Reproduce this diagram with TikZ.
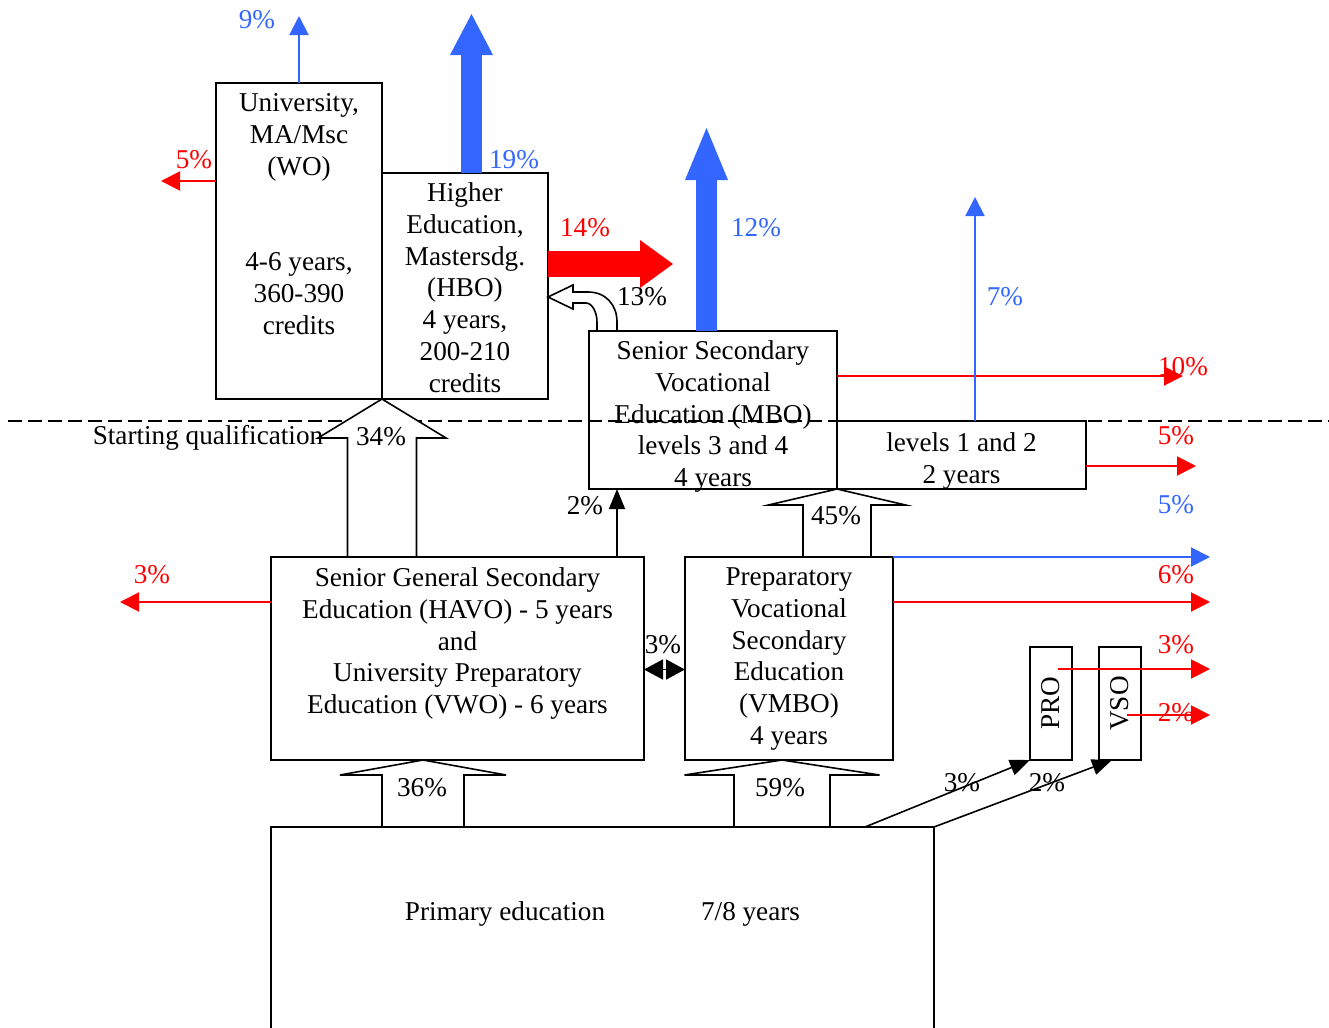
\documentclass[tikz,border=0pt]{standalone}
\usepackage{fontspec}
\setmainfont{Liberation Serif}
\usepackage{graphicx}
\usetikzlibrary{calc}
\usetikzlibrary{arrows.meta}
\usetikzlibrary{positioning}

\definecolor{lossred}{RGB}{255,0,0}
\definecolor{upblue}{RGB}{51,102,255}
\newcommand{\fs}{\fontsize{13.6}{15.9}\selectfont}
% hollow block arrow: tip, node it starts at, half shaft, half head, head length
\newcommand{\blockup}[5]{%
 \path (#1) ++(#3,#5) coordinate (hr) ++({-2*#3},0) coordinate (hl);
 \draw[hollow] (#1) -- ++(#4,#5) -- (hr) -- (hr |- #2) -- (hl |- #2) -- (hl) -- ++({#3-#4},0) -- cycle;
}

\begin{document}
\begin{tikzpicture}[x=0.5pt,y=-0.5pt,
 box/.style={draw, line width=1pt, align=center, inner sep=0pt, outer sep=0pt, font=\fs, anchor=north west},
 boxtext/.style={below=#1, align=center, font=\fs, inner sep=0pt},
 pct/.style={font=\fs, inner sep=0pt, anchor=base},
 hollow/.style={draw, fill=white, line width=0.8pt},
 outred/.style={draw=lossred, line width=1pt, -{Triangle[width=9.5pt,length=9.5pt]}},
 outblue/.style={draw=upblue, line width=1pt, -{Triangle[width=9.5pt,length=9.5pt]}},
 blackarr/.style={draw, line width=0.8pt, -{Triangle[width=8pt,length=10pt]}}]
\clip (0,0) rectangle (1329,1028);

% the line of the starting qualification
\draw[line width=0.6pt, dash pattern=on 7pt off 3pt] (8,421) -- (1329,421);

% boxes
\node[box, minimum width=83pt, minimum height=158pt,
 label={[boxtext=5.1pt]north:{University,\\MA/Msc\\(WO)\\[31.8pt]4-6 years,\\360-390\\credits}}] (wo) at (216,83) {};
\node[box, minimum width=83pt, minimum height=113pt,
 label={[boxtext=4.6pt]north:{Higher\\Education,\\Mastersdg.\\(HBO)\\4 years,\\200-210\\credits}}] (hbo) at (382,173) {};
\node[box, minimum width=124pt, minimum height=79pt,
 label={[boxtext=4.6pt]north:{Senior Secondary\\Vocational\\Education (MBO)\\levels 3 and 4\\4 years}}] (mbo) at (589,331) {};
\node[box, minimum width=124.5pt, minimum height=34pt,
 label={[boxtext=5.6pt]north:{levels 1 and 2\\2 years}}] (lev) at (837,421) {};
\node[box, minimum width=186.5pt, minimum height=101.5pt,
 label={[boxtext=5.1pt]north:{Senior General Secondary\\Education (HAVO) - 5 years\\and\\University Preparatory\\Education (VWO) - 6 years}}] (havo) at (271,557) {};
\node[box, minimum width=104pt, minimum height=101.5pt,
 label={[boxtext=5.1pt]north:{Preparatory\\Vocational\\Secondary\\Education\\(VMBO)\\4 years}}] (vmbo) at (685,557) {};
\node[box, minimum width=331.5pt, minimum height=150pt,
 label={[boxtext=37pt]north:{Primary education\hspace{48pt}7/8 years}}] (prim) at (271,827) {};
\node[box, anchor=center, minimum width=21pt, minimum height=56.5pt] (pro) at (1051,703.5) {\rotatebox{90}{PRO}};
\node[box, anchor=center, minimum width=21pt, minimum height=56.5pt] (vso) at (1120,703.5) {\rotatebox{90}{VSO}};

% free ends
\coordinate (e9) at (299,16);
\coordinate (e5) at (161,181);
\coordinate (e19) at (471.5,14);
\coordinate (e14) at (673,264);
\coordinate (e12) at (706.5,128);
\coordinate (e7) at (975,197);
\coordinate (e10) at (1183,376);
\coordinate (e5b) at (1196,466);
\coordinate (e5c) at (1210,557);
\coordinate (e6) at (1210,602);
\coordinate (e3) at (120,602);
\coordinate (e3b) at (1210,669);
\coordinate (e2b) at (1210,715);

% arrows
\draw[outblue] (wo.north) -- (e9);
\draw[outred] ($(wo.north west)+(0,98)$) -- (e5);
\draw[draw=upblue, line width=10.5pt, -{Triangle[width=21.5pt,length=20.5pt,line width=0pt]}] ($(hbo.north)+(6.5,0)$) -- (e19);
\draw[draw=lossred, line width=13pt, -{Triangle[width=24pt,length=16.5pt,line width=0pt]}] ($(hbo.east)+(0,-22)$) -- (e14);
\draw[draw=upblue, line width=10.5pt, -{Triangle[width=21.5pt,length=26pt,line width=0pt]}] ($(mbo.north)+(-6.5,0)$) -- (e12);
\draw[hollow] ($(hbo.east)+(0,11)$) -- ++(25,-12) -- ++(0,7) -- ++(15,0) .. controls +(18,0) and +(0,-17) .. ++(29,30)
 -- ++(0,9) -- ++(-20,0) -- ++(0,-9) .. controls +(0,-10) and +(6,0) .. ++(-11,-19) -- ++(-13,0) -- ++(0,6) -- cycle;
\draw[outred] ($(mbo.east)+(0,-34)$) -- (e10);
\draw[outblue] ($(lev.north)+(13.5,0)$) -- (e7);
\draw[outred] ($(lev.east)+(0,11)$) -- (e5b);
\draw[outblue] (vmbo.north east) -- (e5c);
\draw[outred] ($(vmbo.north east)+(0,45)$) -- (e6);
\draw[outred] ($(havo.north west)+(0,45)$) -- (e3);
\draw[blackarr] ($(havo.north east)+(-27,0)$) coordinate (s2) -- (s2 |- mbo.south);
\draw[line width=0.8pt, {Triangle[width=10pt,length=9.5pt]}-{Triangle[width=10pt,length=9.5pt]}] ($(havo.east)+(0,11)$) coordinate (s3) -- (s3 -| vmbo.west);
\draw[blackarr] ($(prim.north east)+(-69,0)$) -- (pro.south west);
\draw[blackarr] (prim.north east) -- ($(vso.south west)+(13,0)$);
\draw[outred] ($(pro.center)+(7,-34.5)$) -- (e3b);
\draw[outred] ($(vso.center)+(7,11.5)$) -- (e2b);

\blockup{wo.south east}{havo.north}{34.5}{64}{39}
\blockup{mbo.south east}{vmbo.north}{34}{68.5}{16}
\blockup{$(havo.south)+(-34.5,0)$}{prim.north}{41}{83}{15}
\blockup{$(vmbo.south)+(-7,0)$}{prim.north}{48}{97.5}{15}

% labels
\node[pct] (start) at (208,444) {Starting qualification};
\node[pct, text=upblue] (p9) at (257,28) {9\%};
\node[pct, text=lossred] (p5) at (194,168) {5\%};
\node[pct, text=upblue] (p19) at (514,168) {19\%};
\node[pct, text=lossred] (p14) at (585,236) {14\%};
\node[pct, text=upblue] (p12) at (756,236) {12\%};
\node[pct] (p13) at (642,305) {13\%};
\node[pct, text=upblue] (p7) at (1005,305) {7\%};
\node[pct, text=lossred] (p10) at (1183,375) {10\%};
\node[pct, text=lossred] (p5b) at (1176,444) {5\%};
\node[pct, text=upblue] (p5c) at (1176,513) {5\%};
\node[pct, text=lossred] (p6) at (1176,583) {6\%};
\node[pct, text=lossred] (p3) at (152,583) {3\%};
\node[pct] (p34) at (381,445) {34\%};
\node[pct] (p2) at (585,514) {2\%};
\node[pct] (p45) at (836,524) {45\%};
\node[pct] (p3b) at (663,653) {3\%};
\node[pct, text=lossred] (p3c) at (1176,653) {3\%};
\node[pct, text=lossred] (p2b) at (1176,721) {2\%};
\node[pct] (p36) at (422,796) {36\%};
\node[pct] (p59) at (780,796) {59\%};
\node[pct] (p3d) at (962,791) {3\%};
\node[pct] (p2c) at (1047,791) {2\%};
\end{tikzpicture}
\end{document}
